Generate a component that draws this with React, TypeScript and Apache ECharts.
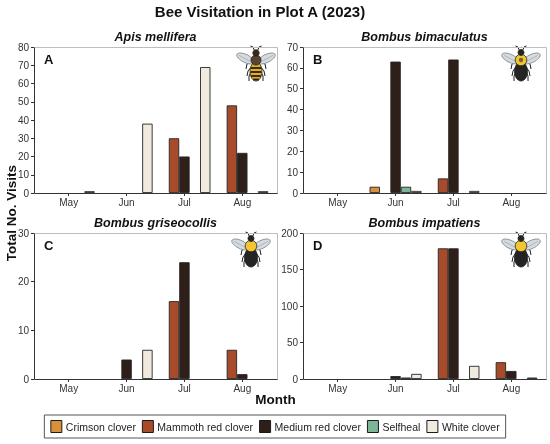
import React, { useEffect, useRef } from 'react';
import * as echarts from 'echarts';

const months = ['May', 'Jun', 'Jul', 'Aug'];
const species = ['Apis mellifera', 'Bombus bimaculatus', 'Bombus griseocollis', 'Bombus impatiens'];
const panelLetters = ['A', 'B', 'C', 'D'];
const cloverNames = ['Crimson clover', 'Mammoth red clover', 'Medium red clover', 'Selfheal', 'White clover'];
const cloverColors = ['#D8913A', '#A84B2B', '#2F1F19', '#7DB597', '#F1EADF'];

const yMax = [80, 70, 30, 200];
const yStep = [10, 10, 10, 50];

// rows: panels A, B, C, D; columns: May, Jun, Jul, Aug
const crimsonClover = [
  [null, null, null, null],
  [null, 3, null, null],
  [null, null, null, null],
  [null, null, null, null],
];
const mammothRedClover = [
  [null, null, 30, 48],
  [null, null, 7, null],
  [null, null, 16, 6],
  [null, null, 179, 23],
];
const mediumRedClover = [
  [null, null, 20, 22],
  [null, 63, 64, null],
  [null, 4, 24, 1],
  [null, 4, 179, 11],
];
const selfheal = [
  [null, null, null, null],
  [null, 3, null, null],
  [null, null, null, null],
  [null, 2, null, null],
];
const whiteClover = [
  [1, 38, 69, 1],
  [null, 1, 1, null],
  [null, 6, null, null],
  [null, 7, 18, 2],
];

const cloverData = [crimsonClover, mammothRedClover, mediumRedClover, selfheal, whiteClover];

const panels = [
  { x0: 34, x1: 277, y0: 47, y1: 193 },
  { x0: 303, x1: 546, y0: 47, y1: 193 },
  { x0: 34, x1: 277, y0: 233, y1: 379 },
  { x0: 303, x1: 546, y0: 233, y1: 379 },
];

const beeCenters = [
  [256, 64, 'honey'],
  [521, 64, 'spot'],
  [251, 250, 'bumble'],
  [521, 250, 'bumble'],
];

function bee(cx: number, cy: number, kind: string) {
  const dark = '#1f1f1f';
  const children: any[] = [];
  const legs = [
    [[-4, -3], [-9, 0], [-10, 5]],
    [[-4, 2], [-8, 7], [-9, 12]],
    [[-4, 6], [-7, 12], [-7, 17]],
  ];
  legs.forEach((p) => {
    children.push({ type: 'polyline', shape: { points: p }, style: { stroke: dark, lineWidth: 1, fill: null } });
    children.push({ type: 'polyline', shape: { points: p.map(([x, y]) => [-x, y]) }, style: { stroke: dark, lineWidth: 1, fill: null } });
  });
  const ant = [[-1.5, -13], [-3, -17], [-5.5, -18]];
  children.push({ type: 'polyline', shape: { points: ant }, style: { stroke: dark, lineWidth: 1, fill: null } });
  children.push({ type: 'polyline', shape: { points: ant.map(([x, y]) => [-x, y]) }, style: { stroke: dark, lineWidth: 1, fill: null } });
  const wingStyle = { fill: '#d5dbdf', stroke: '#7f878b', lineWidth: 0.8 };
  children.push({ type: 'ellipse', x: -10.5, y: -5.5, rotation: -0.45, shape: { cx: 0, cy: 0, rx: 9.5, ry: 4 }, style: wingStyle });
  children.push({ type: 'ellipse', x: 10.5, y: -5.5, rotation: 0.45, shape: { cx: 0, cy: 0, rx: 9.5, ry: 4 }, style: wingStyle });
  children.push({ type: 'line', x: -10.5, y: -5.5, rotation: -0.45, shape: { x1: -7, y1: 0, x2: 6, y2: 0.5 }, style: { stroke: '#9aa2a6', lineWidth: 0.6 } });
  children.push({ type: 'line', x: 10.5, y: -5.5, rotation: 0.45, shape: { x1: -6, y1: 0.5, x2: 7, y2: 0 }, style: { stroke: '#9aa2a6', lineWidth: 0.6 } });
  const abdCy = 7.5;
  const abdRx = 6;
  const abdRy = 9.5;
  if (kind === 'honey') {
    children.push({ type: 'ellipse', shape: { cx: 0, cy: abdCy, rx: abdRx, ry: abdRy }, style: { fill: '#E2AC2B', stroke: dark, lineWidth: 0.8 } });
    [4, 8, 12, 15.5].forEach((yy) => {
      const t = (yy - abdCy) / abdRy;
      const hw = abdRx * Math.sqrt(Math.max(0, 1 - t * t)) - 0.4;
      children.push({ type: 'line', shape: { x1: -hw, y1: yy, x2: hw, y2: yy }, style: { stroke: '#2b1d12', lineWidth: 1.8 } });
    });
    children.push({ type: 'circle', shape: { cx: 0, cy: -4, r: 5 }, style: { fill: '#5B4332', stroke: dark, lineWidth: 0.8 } });
    children.push({ type: 'circle', shape: { cx: 0, cy: -11, r: 3.2 }, style: { fill: '#3a2a1c', stroke: dark, lineWidth: 0.8 } });
  } else {
    children.push({ type: 'ellipse', shape: { cx: 0, cy: abdCy, rx: abdRx + 0.5, ry: abdRy }, style: { fill: '#242424', stroke: dark, lineWidth: 0.8 } });
    children.push({ type: 'circle', shape: { cx: 0, cy: -4, r: 5.8 }, style: { fill: '#F3C531', stroke: dark, lineWidth: 0.8 } });
    if (kind === 'spot') {
      children.push({ type: 'circle', shape: { cx: 0, cy: -4, r: 2.2 }, style: { fill: '#7a6440' } });
    }
    children.push({ type: 'circle', shape: { cx: 0, cy: -11.5, r: 3 }, style: { fill: '#242424', stroke: dark, lineWidth: 0.8 } });
  }
  return { type: 'group', x: cx, y: cy, z: 20, children };
}

export default function App() {
  const ref = useRef<HTMLDivElement>(null);
  useEffect(() => {
    if (!ref.current) return;
    const chart = echarts.init(ref.current, null, { renderer: 'svg' });
    const grids: any[] = [];
    const xAxes: any[] = [];
    const yAxes: any[] = [];
    const series: any[] = [];
    const graphic: any[] = [];
    panels.forEach((pn, p) => {
      const w = pn.x1 - pn.x0;
      const inset = (w / 4.2) * 0.1;
      grids.push({ left: pn.x0 + inset, top: pn.y0, width: w - 2 * inset, height: pn.y1 - pn.y0 });
      xAxes.push({
        type: 'category',
        gridIndex: p,
        data: months,
        axisLine: { show: false },
        axisTick: { show: true, alignWithLabel: true, length: 3, lineStyle: { color: '#333' } },
        axisLabel: { fontSize: 10, color: '#333', margin: 4 },
      });
      yAxes.push({
        type: 'value',
        gridIndex: p,
        min: 0,
        max: yMax[p],
        interval: yStep[p],
        offset: inset,
        axisLine: { show: false },
        axisTick: { show: true, length: 3, lineStyle: { color: '#333' } },
        axisLabel: { fontSize: 10, color: '#333', margin: 5 },
        splitLine: { show: false },
      });
      cloverData.forEach((arr, c) => {
        series.push({
          type: 'bar',
          name: cloverNames[c],
          xAxisIndex: p,
          yAxisIndex: p,
          data: arr[p],
          barGap: '0%',
          barCategoryGap: '10%',
          itemStyle: { color: cloverColors[c], borderColor: '#262626', borderWidth: 0.9 },
          emphasis: { disabled: true },
        });
      });
      graphic.push({
        type: 'rect',
        z: 15,
        shape: { x: pn.x0 + 0.5, y: pn.y0 + 0.5, width: w, height: pn.y1 - pn.y0 },
        style: { fill: null, stroke: '#bdbdbd', lineWidth: 1 },
      });
      graphic.push({
        type: 'polyline',
        z: 16,
        shape: { points: [[pn.x0 + 0.5, pn.y0 + 0.5], [pn.x0 + 0.5, pn.y1 + 0.5], [pn.x1 + 0.5, pn.y1 + 0.5]] },
        style: { fill: null, stroke: '#333', lineWidth: 1 },
      });
      graphic.push({
        type: 'text',
        z: 16,
        x: (pn.x0 + pn.x1) / 2,
        y: pn.y0 - 10.5,
        style: {
          text: species[p],
          textAlign: 'center',
          textVerticalAlign: 'middle',
          font: 'italic bold 12.5px "Liberation Sans"',
          fill: '#111',
        },
      });
      graphic.push({
        type: 'text',
        z: 16,
        x: pn.x0 + 10,
        y: pn.y0 + 12,
        style: {
          text: panelLetters[p],
          textAlign: 'left',
          textVerticalAlign: 'middle',
          font: 'bold 13px "Liberation Sans"',
          fill: '#111',
        },
      });
    });
    beeCenters.forEach(([x, y, k]) => graphic.push(bee(x as number, y as number, k as string)));
    graphic.push({
      type: 'text',
      x: 260,
      y: 11.5,
      style: {
        text: 'Bee Visitation in Plot A (2023)',
        textAlign: 'center',
        textVerticalAlign: 'middle',
        font: 'bold 15px "Liberation Sans"',
        fill: '#111',
      },
    });
    graphic.push({
      type: 'text',
      x: 275.5,
      y: 399,
      style: {
        text: 'Month',
        textAlign: 'center',
        textVerticalAlign: 'middle',
        font: 'bold 13.5px "Liberation Sans"',
        fill: '#111',
      },
    });
    graphic.push({
      type: 'text',
      x: 11,
      y: 213,
      rotation: Math.PI / 2,
      style: {
        text: 'Total No. Visits',
        textAlign: 'center',
        textVerticalAlign: 'middle',
        font: 'bold 13.5px "Liberation Sans"',
        fill: '#111',
      },
    });
    chart.setOption({
      animation: false,
      textStyle: { fontFamily: 'Liberation Sans' },
      grid: grids,
      xAxis: xAxes,
      yAxis: yAxes,
      series,
      legend: {
        data: cloverNames,
        left: 'center',
        top: 415,
        orient: 'horizontal',
        icon: 'rect',
        itemWidth: 11,
        itemHeight: 12,
        itemGap: 6,
        padding: [5, 6],
        borderColor: '#555',
        borderWidth: 1,
        selectedMode: false,
        itemStyle: { borderColor: '#1a1a1a', borderWidth: 1 },
        textStyle: { fontSize: 10.5, color: '#222', padding: [0, 0, 0, -1] },
      },
      graphic,
    });
    return () => chart.dispose();
  }, []);
  return <div ref={ref} style={{ position: 'fixed', left: 0, top: 0, width: 550, height: 444 }} />;
}
